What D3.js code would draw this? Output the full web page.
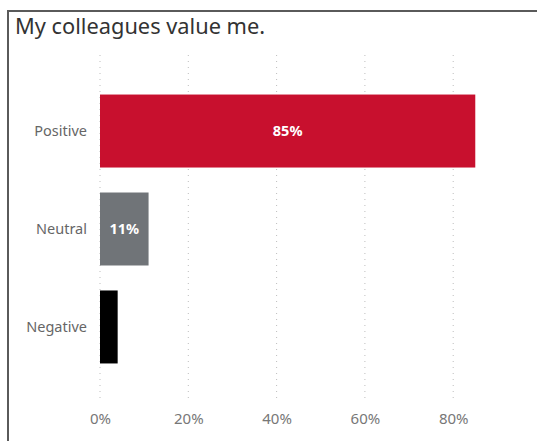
<!DOCTYPE html>
<html>
<head>
<meta charset="utf-8">
<script src="https://cdn.jsdelivr.net/npm/d3@7"></script>
<style>
  html, body { margin: 0; padding: 0; background: #fff; }
  svg { display: block; }
</style>
</head>
<body>
<svg id="chart" width="537" height="441"></svg>
<script>
// Survey response shares for one statement
const title = "My colleagues value me.";
const categories = ["Positive", "Neutral", "Negative"];
const shares = [0.85, 0.11, 0.04];
const barColors = ["#C8102E", "#707478", "#000000"];
const valueLabels = ["85%", "11%", ""];
const tickValues = [0, 0.2, 0.4, 0.6, 0.8];

const svg = d3.select("#chart");
const font = "'Noto Sans', 'Open Sans', sans-serif";

// Card frame: top and left edges
svg.append("path")
  .attr("d", "M8,441 V11 H537")
  .attr("fill", "none")
  .attr("stroke", "#5a5a5a")
  .attr("stroke-width", 2);

svg.append("text")
  .attr("x", 15)
  .attr("y", 34)
  .attr("font-family", font)
  .attr("font-size", 21.8)
  .attr("fill", "#333")
  .text(title);

const x = d3.scaleLinear().domain([0, 1]).range([100, 541.5]);
const y = d3.scaleBand()
  .domain(categories)
  .range([82, 376])
  .paddingInner(0.255)
  .paddingOuter(0.128);

// Dotted vertical gridlines
svg.append("g")
  .selectAll("line")
  .data(tickValues)
  .join("line")
  .attr("x1", d => x(d))
  .attr("x2", d => x(d))
  .attr("y1", 55)
  .attr("y2", 399)
  .attr("stroke", "#bdbdbd")
  .attr("stroke-width", 1)
  .attr("stroke-dasharray", "1,5");

// X axis tick labels
const xAxis = d3.axisBottom(x)
  .tickValues(tickValues)
  .tickFormat(d3.format(".0%"))
  .tickSize(0)
  .tickPadding(0);

const gx = svg.append("g")
  .attr("transform", "translate(0,413)")
  .call(xAxis);
gx.select(".domain").remove();
gx.selectAll("text")
  .attr("font-family", font)
  .attr("font-size", 15)
  .attr("fill", "#777");

// Y axis category labels
const yAxis = d3.axisLeft(y).tickSize(0).tickPadding(0);
const gy = svg.append("g")
  .attr("transform", "translate(87,0)")
  .call(yAxis);
gy.select(".domain").remove();
gy.selectAll("text")
  .attr("font-family", font)
  .attr("font-size", 14.5)
  .attr("fill", "#666");

const rows = categories.map((c, i) => ({ c, v: shares[i], color: barColors[i], label: valueLabels[i] }));

svg.append("g")
  .selectAll("rect")
  .data(rows)
  .join("rect")
  .attr("x", x(0))
  .attr("y", d => y(d.c))
  .attr("width", d => x(d.v) - x(0))
  .attr("height", y.bandwidth())
  .attr("fill", d => d.color);

svg.append("g")
  .selectAll("text")
  .data(rows.filter(d => d.label))
  .join("text")
  .attr("x", d => (x(0) + x(d.v)) / 2)
  .attr("y", d => y(d.c) + y.bandwidth() / 2)
  .attr("dy", "0.35em")
  .attr("text-anchor", "middle")
  .attr("font-family", font)
  .attr("font-size", 14.5)
  .attr("font-weight", "bold")
  .attr("fill", "#fff")
  .text(d => d.label);
</script>
</body>
</html>
